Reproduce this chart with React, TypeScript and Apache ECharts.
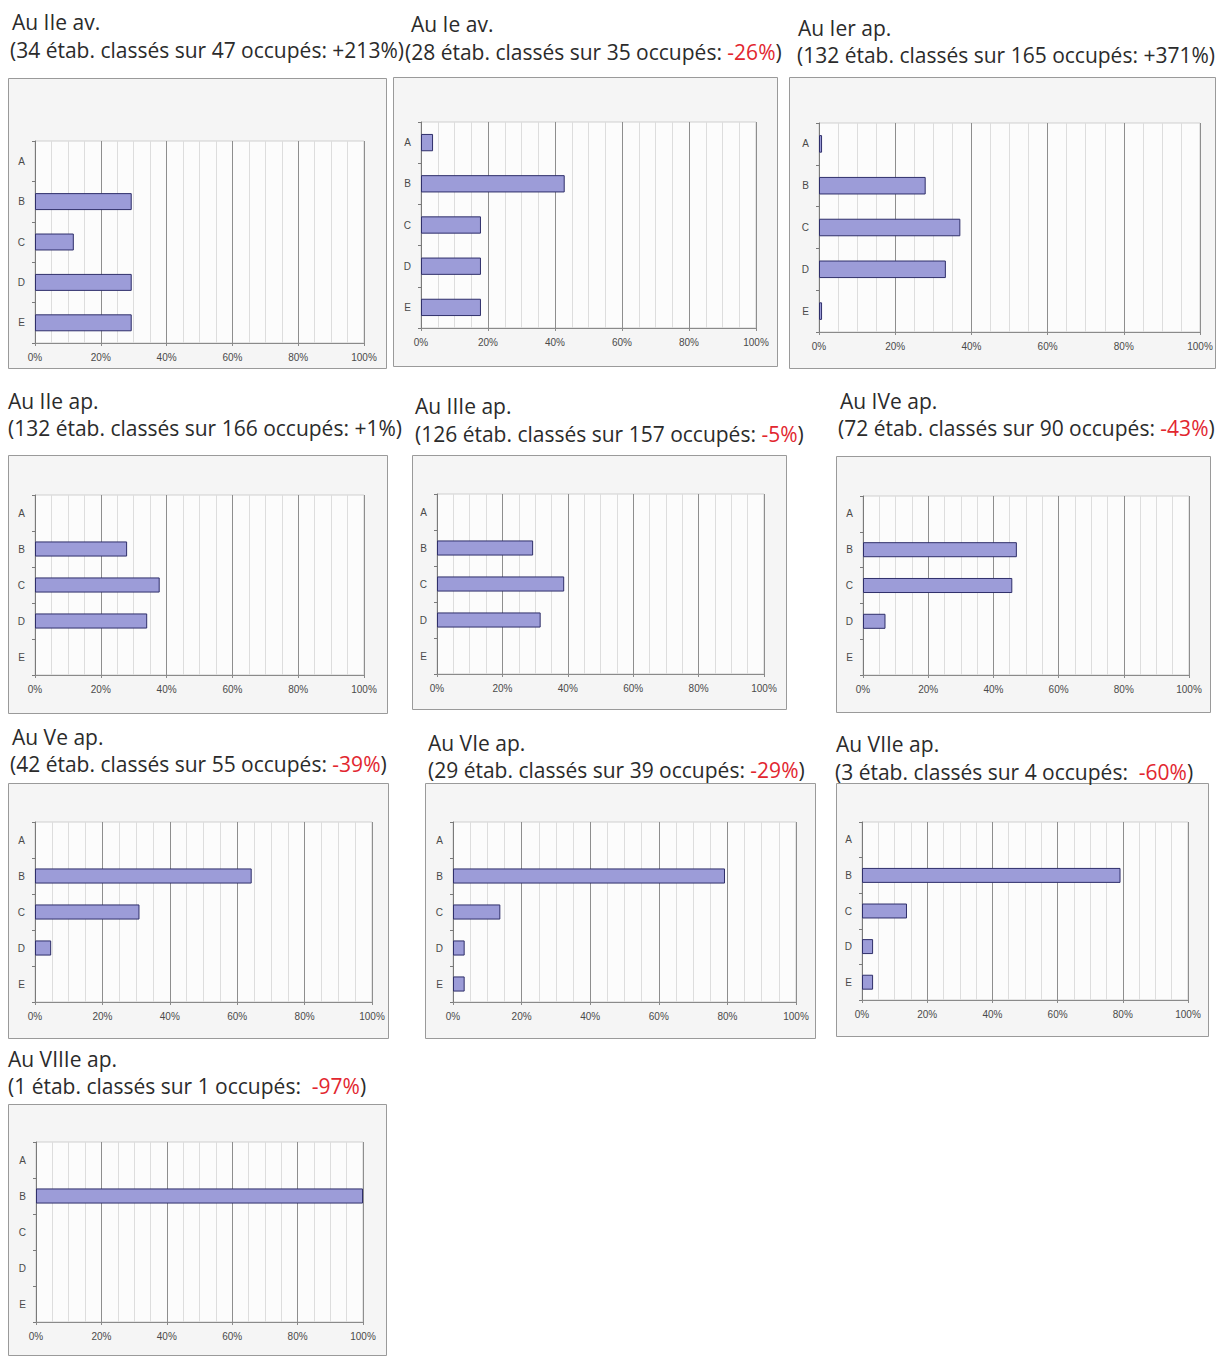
import React, { useEffect, useRef } from "react";
import * as echarts from "echarts";

const categories = ["A", "B", "C", "D", "E"];
const tickLabelSuffix = "%";

const periods = [
  "Au IIe av.",
  "Au Ie av.",
  "Au Ier ap.",
  "Au IIe ap.",
  "Au IIIe ap.",
  "Au IVe ap.",
  "Au Ve ap.",
  "Au VIe ap.",
  "Au VIIe ap.",
  "Au VIIIe ap.",
];
const classes = [34, 28, 132, 132, 126, 72, 42, 29, 3, 1];
const occupes = [47, 35, 165, 166, 157, 90, 55, 39, 4, 1];
const changes = ["+213%", "-26%", "+371%", "+1%", "-5%", "-43%", "-39%", "-29%", "-60%", "-97%"];
const changeGap = [" ", " ", " ", " ", " ", " ", " ", " ", "  ", "  "];

const iieAv = [0, 29.4, 11.8, 29.4, 29.4];
const ieAv = [3.6, 42.9, 17.9, 17.9, 17.9];
const ierAp = [0.8, 28.0, 37.1, 33.3, 0.8];
const iieAp = [0, 28.0, 37.9, 34.1, 0];
const iiieAp = [0, 29.4, 38.9, 31.7, 0];
const iveAp = [0, 47.2, 45.8, 6.9, 0];
const veAp = [0, 64.3, 31.0, 4.8, 0];
const vieAp = [0, 79.3, 13.8, 3.4, 3.4];
const viieAp = [0, 79.3, 13.8, 3.4, 3.4];
const viiieAp = [0, 100, 0, 0, 0];

const seriesData = [iieAv, ieAv, ierAp, iieAp, iiieAp, iveAp, veAp, vieAp, viieAp, viiieAp];

// layout: panel box [x0, y0, x1, y1], plot [x0, y0, x1, y1], title lines [x1, cy1, x2, cy2]
const boxes = [
  [8, 78, 386, 368],
  [393, 77, 777, 366],
  [789, 77, 1215, 368],
  [8, 455, 387, 713],
  [412, 455, 786, 709],
  [836, 456, 1210, 712],
  [8, 783, 388, 1038],
  [425, 783, 815, 1038],
  [836, 783, 1208, 1036],
  [8, 1104, 386, 1355],
];
const plots = [
  [35, 141, 364, 343],
  [421, 122, 756, 328],
  [819, 123, 1200, 332],
  [35, 495, 364, 675],
  [437, 494, 764, 674],
  [863, 496, 1189, 675],
  [35, 822, 372, 1002],
  [453, 822, 796, 1002],
  [862, 822, 1188, 1000],
  [36, 1142, 363, 1322],
];
const titlePos = [
  [12, 22, 10, 50],
  [411, 24, 405, 52],
  [798, 28, 797, 55],
  [8, 401, 8, 428],
  [415, 406, 415, 434],
  [840, 401, 838, 428],
  [12, 737, 10, 764],
  [428, 743, 428, 770],
  [836, 744, 835, 772],
  [8, 1059, 8, 1086],
];

const TEXT = "#2b2b2b";
const RED = "#e2262f";
const FONT = "Open Sans";
const FS = 21;

export default function App() {
  const ref = useRef<HTMLDivElement>(null);
  useEffect(() => {
    if (!ref.current) return;
    const chart = echarts.init(ref.current, null, { renderer: "svg" });

    const grids: any[] = [];
    const xAxes: any[] = [];
    const yAxes: any[] = [];
    const series: any[] = [];
    const graphics: any[] = [];

    seriesData.forEach((vals, i) => {
      const [bx0, by0, bx1, by1] = boxes[i];
      const [px0, py0, px1, py1] = plots[i];
      graphics.push({
        type: "rect",
        z: -100,
        shape: { x: bx0 + 0.5, y: by0 + 0.5, width: bx1 - bx0, height: by1 - by0 },
        style: { fill: "#f5f5f5", stroke: "#9a9a9a", lineWidth: 1 },
      });
      const [tx1, ty1, tx2, ty2] = titlePos[i];
      graphics.push({
        type: "text",
        x: tx1,
        y: ty1,
        style: {
          text: periods[i],
          fill: TEXT,
          font: `${FS}px "${FONT}"`,
          verticalAlign: "middle",
        },
      });
      const neg = changes[i].startsWith("-");
      graphics.push({
        type: "text",
        x: tx2,
        y: ty2,
        style: {
          text: `{n|(${classes[i]} étab. classés sur ${occupes[i]} occupés:${changeGap[i]}}{${neg ? "r" : "n"}|${changes[i]}}{n|)}`,
          verticalAlign: "middle",
          font: `${FS}px "${FONT}"`,
          rich: {
            n: { fill: TEXT, fontFamily: FONT, fontSize: FS },
            r: { fill: RED, fontFamily: FONT, fontSize: FS },
          },
        },
      });

      grids.push({
        left: px0,
        top: py0,
        width: px1 - px0,
        height: py1 - py0,
        show: true,
        backgroundColor: "#fcfcfc",
        borderColor: "#cfcfcf",
        borderWidth: 1,
        containLabel: false,
      });
      xAxes.push({
        type: "value",
        gridIndex: i,
        min: 0,
        max: 100,
        interval: 20,
        axisLine: { show: true, lineStyle: { color: "#8a8a8a" } },
        axisTick: { show: true, length: 3, lineStyle: { color: "#8a8a8a" } },
        axisLabel: {
          formatter: "{value}" + tickLabelSuffix,
          fontSize: 10,
          color: "#4a4a4a",
          fontFamily: "Liberation Sans",
          margin: 9,
        },
        splitLine: { show: true, lineStyle: { color: "#8e8e8e", width: 1 } },
        minorTick: { show: false, splitNumber: 4 },
        minorSplitLine: { show: true, lineStyle: { color: "#dddddd", width: 1 } },
      });
      yAxes.push({
        type: "category",
        gridIndex: i,
        data: categories,
        inverse: true,
        axisLine: { show: true, lineStyle: { color: "#7a7a7a" } },
        axisTick: { show: true, length: 3, lineStyle: { color: "#7a7a7a" } },
        axisLabel: {
          fontSize: 10,
          color: "#4a4a4a",
          fontFamily: "Liberation Sans",
          margin: 10,
        },
        splitLine: { show: false },
      });
      series.push({
        type: "bar",
        xAxisIndex: i,
        yAxisIndex: i,
        data: vals.map((v) => (v === 0 ? "-" : v)),
        barWidth: "42%",
        itemStyle: { color: "#9c9cd8", borderColor: "#2f2f6a", borderWidth: 1 },
        z: 3,
      });
    });

    chart.setOption({
      animation: false,
      backgroundColor: "#ffffff",
      grid: grids,
      xAxis: xAxes,
      yAxis: yAxes,
      series,
      graphic: graphics,
    });
    return () => chart.dispose();
  }, []);

  return (
    <div
      ref={ref}
      style={{ position: "absolute", left: 0, top: 0, width: 1216, height: 1356 }}
    />
  );
}
